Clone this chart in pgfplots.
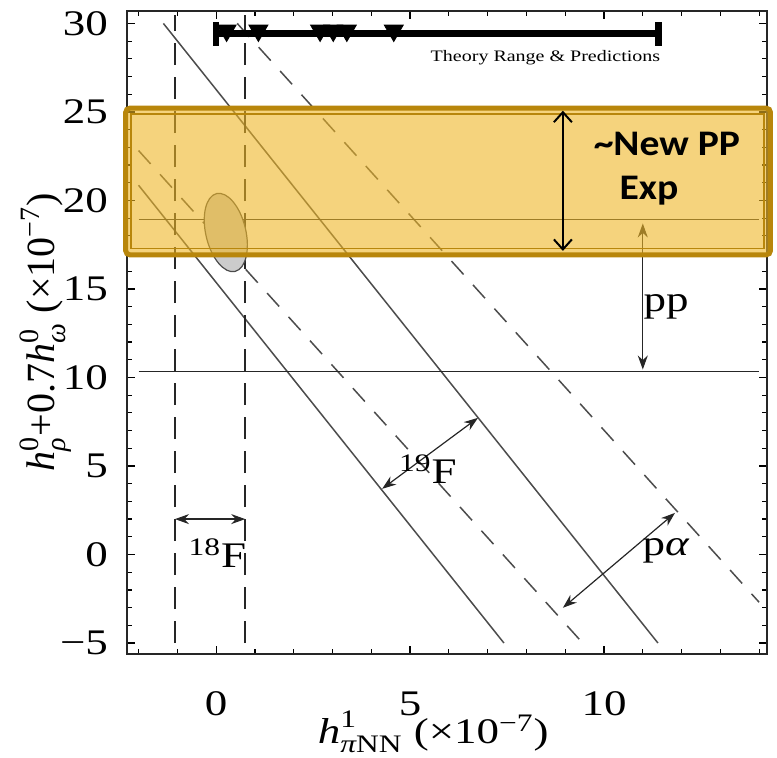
\documentclass[border=0pt]{standalone}
\usepackage{fontspec}
\usepackage{amsmath}
\setmainfont[FakeStretch=1.25]{Liberation Serif}
\newfontfamily\plainserif{Liberation Serif}
\newfontfamily\carlito[FakeStretch=1.1]{Carlito}
\usepackage{pgfplots}
\pgfplotsset{compat=1.18}
\usetikzlibrary{arrows.meta}
\definecolor{gold}{RGB}{184,134,11}
\definecolor{goldfill}{RGB}{238,182,38}
\definecolor{linegray}{gray}{0.3}
\begin{document}
\begin{tikzpicture}
\useasboundingbox (-63.65pt,-52pt) rectangle (324.85pt,327pt);
\begin{axis}[
  scale only axis, width=320pt, height=321.65pt,
  xmin=-2.29, xmax=14.21, ymin=-5.62, ymax=30.72,
  axis line style={line width=0.9pt, black!85},
  xtick={0,5,10}, xticklabels={0,5,10},
  ytick={-5,0,5,10,15,20,25,30}, yticklabels={−5,0,5,10,15,20,25,30},
  minor xtick={-2,-1,...,14}, minor ytick={-5,-4,...,30},
  major tick length=4pt, minor tick length=2.5pt,
  tick style={black, line width=0.6pt},
  tick align=inside,
  xticklabel style={font=\rmfamily\fontsize{18}{18}\selectfont, anchor=center, yshift=-25pt},
  yticklabel style={font=\rmfamily\fontsize{18}{18}\selectfont, anchor=east, inner sep=0pt, xshift=-9.5pt},
  xlabel={$\textit{h}^{\text{1}}_{\textit{π}\text{NN}}$ (×10\textsuperscript{−7})},
  ylabel={$\textit{h}^{\text{0}}_{\textit{ρ}}$+0.7$\textit{h}^{\text{0}}_{\textit{ω}}$ (×10\textsuperscript{−7})},
  xlabel style={font=\rmfamily\fontsize{18}{18}\selectfont, at={(axis description cs:0.478,-0.121)}, anchor=center, inner sep=0pt},
  ylabel style={font=\plainserif\fontsize{20}{20}\selectfont, at={(axis description cs:-0.128,0.5)}, anchor=center, inner sep=0pt},
  clip=false,
]
% 19F band (solid)
\addplot[linegray, line width=0.75pt] coordinates {(-2,20.86) (7.42,-5)};
\addplot[linegray, line width=0.75pt] coordinates {(-1.36,30) (11.39,-5)};
% p-alpha band (dashed)
\addplot[linegray, line width=0.75pt, dash pattern=on 9pt off 7pt] coordinates {(-2,22.82) (9.45,-5)};
\addplot[linegray, line width=0.75pt, dash pattern=on 9pt off 7pt] coordinates {(0.544,30) (14,-2.70)};
% 18F band (vertical dashed)
\addplot[black!85, line width=0.75pt, dash pattern=on 11pt off 6pt] coordinates {(-1.06,-5) (-1.06,30.5)};
\addplot[black!85, line width=0.75pt, dash pattern=on 11pt off 6pt] coordinates {(0.75,-5) (0.75,30.5)};
% pp band
\addplot[black!85, line width=0.75pt] coordinates {(-2,10.34) (14,10.34)};
\addplot[black!85, line width=0.75pt] coordinates {(-2,18.91) (14,18.91)};
% ellipse
\draw[fill=black!20, draw=black!70, line width=0.6pt, rotate around={13.4:(axis cs:0.25,18.19)}] (axis cs:0.25,18.19) ellipse [x radius=10pt, y radius=20pt];
% arrows
\draw[black!85, line width=0.6pt, {Stealth[length=7pt,width=5pt]}-{Stealth[length=7pt,width=5pt]}] (axis cs:11.0,10.45) -- (axis cs:11.0,18.7);
\draw[black!85, line width=0.6pt, {Stealth[length=7pt,width=5pt]}-{Stealth[length=7pt,width=5pt]}] (axis cs:4.28,3.71) -- (axis cs:6.75,7.72);
\draw[black!85, line width=0.6pt, {Stealth[length=7pt,width=5pt]}-{Stealth[length=7pt,width=5pt]}] (axis cs:8.94,-3.01) -- (axis cs:11.83,2.35);
\draw[black!85, line width=0.6pt, {Stealth[length=7pt,width=5pt]}-{Stealth[length=7pt,width=5pt]}] (axis cs:-1.06,2.0) -- (axis cs:0.75,2.0);
\node[font=\rmfamily\fontsize{18}{18}\selectfont] at (axis cs:11.6,14.0) {pp};
\node[font=\rmfamily\fontsize{18}{18}\selectfont] at (axis cs:5.46,4.83) {\textsuperscript{19}F};
\node[font=\rmfamily\fontsize{18}{18}\selectfont] at (axis cs:11.6,0.2) {p\textit{α}};
\node[font=\rmfamily\fontsize{18}{18}\selectfont] at (axis cs:0.03,0.09) {\textsuperscript{18}F};
% theory range
\addplot[black, line width=3.7pt] coordinates {(0,29.42) (11.41,29.42)};
\addplot[black, line width=3.3pt] coordinates {(0,28.75) (0,30.1)};
\addplot[black, line width=3.3pt] coordinates {(11.41,28.75) (11.41,30.1)};
\addplot[only marks, mark=triangle*, mark size=5.5pt, mark options={rotate=180, fill=black, draw=black}] coordinates {(0.27,29.6) (1.09,29.6) (2.68,29.6) (3.02,29.6) (3.37,29.6) (4.58,29.6)};
\node[font=\rmfamily\fontsize{8}{8}\selectfont] at (axis cs:8.49,28.05) {Theory Range \& Predictions};
% new experiment box
\fill[goldfill, opacity=0.6] (axis cs:-2.33,16.93) rectangle (axis cs:14.29,25.21);
\draw[gold, line width=2.5pt, rounded corners=2pt] (axis cs:-2.33,16.93) rectangle (axis cs:14.29,25.21);
\draw[gold, line width=0.75pt] (axis cs:-2.19,17.29) rectangle (axis cs:14.12,24.88);
\draw[black, line width=1pt, {Straight Barb[length=5pt,width=9pt]}-{Straight Barb[length=5pt,width=9pt]}] (axis cs:8.94,17.15) -- (axis cs:8.94,25.07);
\node[font=\carlito\bfseries\fontsize{18}{18}\selectfont] at (axis cs:11.62,23.2) {\textasciitilde New PP};
\node[font=\carlito\bfseries\fontsize{18}{18}\selectfont] at (axis cs:11.16,20.54) {Exp};
\end{axis}
\end{tikzpicture}
\end{document}
